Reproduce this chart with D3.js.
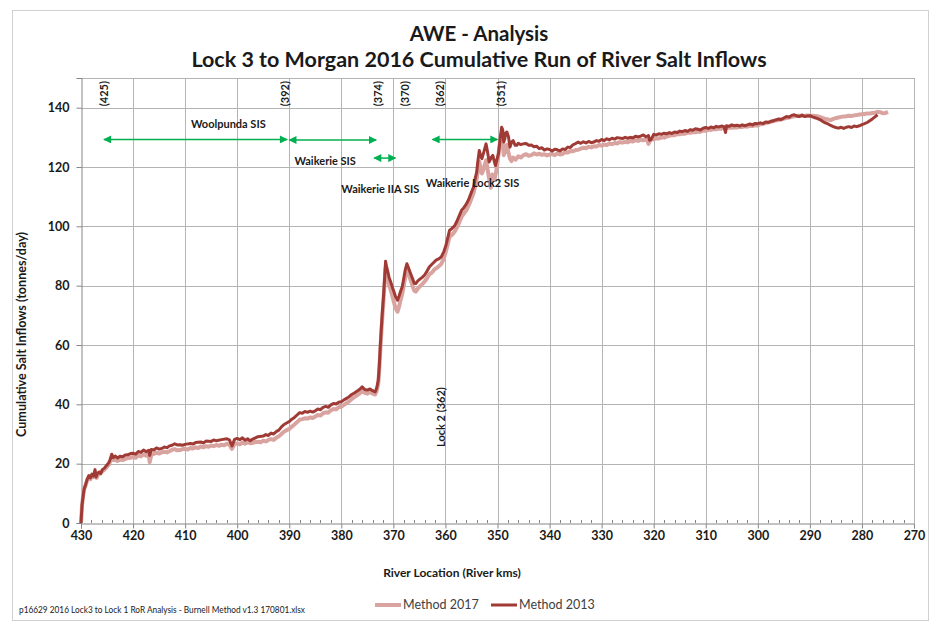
<!DOCTYPE html>
<html>
<head>
<meta charset="utf-8">
<script src="https://cdn.jsdelivr.net/npm/d3@7"></script>
<style>
  body { margin: 0; background: #fff; }
  svg text { font-family: Lato, "Open Sans", sans-serif; fill: #1a1a1a; }
</style>
</head>
<body>
<div id="chart"></div>
<script>
var width = 938, height = 624;

// river km (x) and cumulative salt inflow (t/day)
var km2013 = [430,429.8,429.6,429.4,429.1,428.8,428.5,428.2,427.9,427.6,427.3,427.1,426.8,426.5,426.2,425.9,425.5,425.1,424.7,424.4,424.1,423.8,423.4,423,422.5,422,421.5,421,420.5,420,419.5,419,418.5,418,417.5,417,416.8,416.5,416,415.5,415,414.5,414,413.5,413,412.5,412,411.5,411,410.5,410,409,408.5,408,407,406.5,406,405,404.5,404,403,402,401.5,401,400.5,400,399.5,399,398.5,398,397.5,397,396.5,396,395,394.5,394,393.5,393,392.5,392,391.5,391,390.5,390,389.5,389,388.5,388,387.5,387,386.5,386,385.5,385,384.5,384,383.5,383,382.5,382,381.5,381,380.5,380,379.5,379,378.5,378,377.5,377,376.5,376,375.5,375,374.5,374,373.5,373.2,372.9,372.7,372.5,372.3,372.1,371.9,371.7,371.5,371.3,371.1,370.8,370.5,370.2,369.9,369.6,369.2,368.9,368.6,368.3,368,367.7,367.4,367.1,366.7,366.3,366,365.7,365.3,364.9,364.4,364,363.5,363.1,362.6,362.2,361.8,361.3,360.8,360.3,359.9,359.5,359.2,358.8,358.2,357.8,357.3,356.9,356.5,356,355.6,355.2,354.8,354.6,354.3,354,353.8,353.5,353.2,353,352.7,352.4,352.2,351.9,351.6,351.2,350.9,350.6,350.4,350.1,349.8,349.5,349.2,349,348.8,348.6,348.4,348.2,347.9,347.6,347.3,347,346.6,346.3,346,345.6,345,344.5,344,343.5,343,342.5,342,341.5,341,340.5,340,339.5,339,338.5,338,337.5,337,336.5,336,335.5,335,334.5,334,333.5,333,332.5,332,331.5,331,330.5,330,329.5,329,328.5,328,327.5,327,326,325.5,325,324.5,324,323.5,323,322.5,322,321.5,321,320.8,320.5,320,319.5,319,318.5,318,317.5,317,316.5,316,315.5,315,314.5,314,313.5,313,312.5,312,311.5,311,310.5,310,309.5,309,308.5,308,307.5,307,306.5,306.2,306,305.5,305,304.5,304,303.5,303,302.5,302,301.5,301,300.5,300,299.5,299,298.5,298,297.5,297,296.5,296,295.5,295,294.5,294,293.5,293,292.5,292,291.5,291,290.5,290,289.5,289,288.5,288,287.5,287,286.5,286,285.5,285,284.5,284,283.5,283,282.5,282,281.5,281,280.5,280,279.5,279,278.5,278,277.5,277];
var salt2013 = [0,6,9,11.5,13,14.8,16,15.2,16.5,15.8,18,15.5,16.8,17.2,16.6,18,18.5,19.4,20.2,21.4,23.2,22,22.6,21.9,22.5,22.3,22.9,23,23.4,23.5,23.2,24.1,23.8,24.6,24,24.5,22.8,24.8,24.6,25.3,24.9,25.1,25.6,25.4,26,26.2,26.7,26.3,26.4,26.2,26.5,26.8,26.6,27.1,27.3,27,27.6,27.5,28,27.7,28.1,28.4,28,26,28.2,28.5,28.1,28.7,27.9,28.4,27.7,28.3,28.7,29.1,29.3,29.8,29.5,30.3,30,30.8,31.3,32.4,33.2,33.7,34.2,35,35.6,36.4,37.2,37,37.6,37.3,37.7,37.4,37.8,38.4,38.2,39,39.3,39,39.8,40.3,40.1,40.7,40.9,41.5,42,42.6,43.3,43.8,44.4,45,45.9,45,44.8,45.2,44.6,44.2,45.5,48.1,53,60,66,71.5,76.2,82,88.2,86.3,85,82.6,81.2,79.5,78,76.4,75.1,76.5,78.2,79.6,82.5,85.5,87.4,86,84.1,82.3,80.8,80.7,81.6,82.2,82.9,83.6,85,86.3,87.2,87.9,88.6,89,89.7,91.5,93.6,96.5,98.7,99.2,100.3,101.7,103.8,105.4,106.2,107.5,108.8,110.6,112.4,113.2,116,118.3,121.5,125.6,123.5,122.8,124.6,126.5,127.8,125,121.7,123.2,123.9,121.8,120.5,122.6,124.5,129.5,133.4,132.5,128.4,129.5,131.5,131.8,130.3,126.7,128.4,128.9,127.3,127.3,128,127.6,127.8,127.9,127.3,127.4,126.8,127,126.2,126.5,125.7,126.1,125.9,125.4,126,125.8,125.4,126.1,125.9,126.7,126.6,127.5,127.9,128.4,128,128.5,128.1,128.6,128.2,128.4,128.9,128.7,129.3,128.9,129.5,129.2,129.7,129.4,129.9,129.6,130,129.7,130,129.8,130.4,130.1,130.4,130.8,130.2,130.6,129,129.2,131,130.8,131.2,131,131.4,131.2,131.6,131.3,131.8,131.6,132.1,131.9,132.3,132,132.6,132.4,132.9,132.7,132.5,133.1,133.3,133,133.5,133.2,133.7,133.5,133.8,133.6,131.6,133.9,133.7,134.2,133.9,134.1,133.8,134.2,133.9,134.2,134.5,134.2,134.7,134.6,134.9,134.6,135.2,135,135.4,135.6,135.9,136.2,136,136.5,137,136.8,137.4,137.6,137.2,137,137.5,137,137.2,137.3,136.9,136.6,136.3,135.9,135.3,134.9,134.5,134,133.6,133.3,133.1,133.4,133,133.4,133.6,133.3,133.8,133.6,133.9,134.3,134.6,135,135.6,136.2,136.9,137.6];

var km2017 = [430,429.8,429.6,429.4,429.1,428.8,428.5,428.2,427.9,427.6,427.3,427,426.7,426.4,426,425.5,425,424.6,424.2,423.9,423.4,423,422.5,422,421.5,421,420.5,420,419.5,419,418.5,418,417.5,417,416.8,416.5,416,415.5,415,414.5,414,413.5,413,412.5,412,411.5,411,410.5,410,409.5,409,408.5,408,407.5,407,406.5,406,405.5,405,404.5,404,403.5,403,402.5,402,401.5,401,400.5,400,399.5,399,398.5,398,397.5,397,396.5,396,395.5,395,394.5,394,393.5,393,392.5,392,391.5,391,390.5,390,389.5,389,388.5,388,387.5,387,386.5,386,385.5,385,384.5,384,383.5,383,382.5,382,381.5,381,380.5,380,379.5,379,378.5,378,377.5,377,376.5,376,375.5,375,374.5,374,373.5,373.2,372.9,372.7,372.5,372.3,372.1,371.9,371.7,371.5,371.3,371.1,370.8,370.5,370.2,369.9,369.6,369.2,368.9,368.6,368.3,368,367.7,367.4,367.1,366.7,366.3,366,365.7,365.3,364.9,364.4,364,363.5,363.1,362.6,362.2,361.8,361.3,360.8,360.3,359.9,359.5,359.2,358.8,358.2,357.8,357.3,356.9,356.5,356,355.6,355.2,354.8,354.6,354.3,354,353.8,353.5,353.2,353,352.7,352.4,352.2,351.9,351.6,351.3,351,350.6,350.3,350,349.7,349.3,349,348.8,348.5,348.2,347.9,347.6,347.3,347,346.5,346,345.5,345,344.5,344,343.5,343,342.5,342,341.5,341,340.5,340,339.5,339,338.5,338,337.5,337,336.5,336,335.5,335,334.5,334,333.5,333,332.5,332,331.5,331,330.5,330,329.5,329,328.5,328,327.5,327,326.5,326,325.5,325,324.5,324,323.5,323,322.5,322,321.3,321,320.5,320,319.5,319,318.5,318,317.5,317,316.5,316,315.5,315,314.5,314,313.5,313,312.5,312,311.5,311,310.5,310,309.5,309,308.5,308,307.5,307,306.5,306,305.5,305,304.5,304,303.5,303,302.5,302,301.5,301,300.5,300,299.5,299,298.5,298,297.5,297,296.5,296,295.5,295,294.5,294,293.5,293,292.5,292,291.5,291,290.5,290,289.5,289,288.5,288,287.5,287,286.5,286,285.5,285,284.5,284,283.5,283,282.5,282,281.5,281,280.5,280,279.5,279,278.5,278,277.5,277,276.5,276,275.5,275];
var salt2017 = [0,6,9,11.3,12.8,14.5,15.5,14.8,16,15.5,17,15.2,16.4,16.8,17.3,18,19,19.8,21.6,21.2,21.3,20.9,21.4,21.2,21.6,21.9,22,22.3,22,22.8,22.5,23.1,22.7,23.2,20.5,23,23.3,23.7,23.4,23.8,24,23.8,24.2,24.7,24.9,24.5,24.6,24.9,25,24.8,25.3,25.1,25.5,25.3,25.8,25.5,25.9,25.7,26.1,25.9,26.3,26,26.4,26.2,26.7,26.4,25,26.6,26.8,26.5,27.1,26.7,27.2,26.9,27,27.3,27.4,27.2,27.7,27.5,28,28.3,28,28.7,29.2,30,30.8,31.3,31.7,32.5,33.2,34,34.8,35,35.3,35.2,35.6,35.4,35.9,36.4,36.2,37,37.3,37.2,38,38.4,38.3,39,39.2,39.8,40.4,41,41.8,42.4,43,43.6,44.5,43.9,43.6,44.2,43.6,43.3,44.6,47,52,58.5,64.5,70,75,80.5,86,84.5,82.8,80,78.5,76.5,74.5,72.5,71.2,73,75.3,77.2,80,83,85,84,82,79.8,78.3,78,79,79.8,80.6,81.4,82.6,83.8,84.4,85.3,85.8,86.5,87.3,89.2,91.6,94.4,96.6,97,98.3,99.6,101.6,103.2,104.2,105.4,106.8,108.5,110.3,111.2,113.5,116,118.5,121.8,119,117.8,119.2,121,122.3,119.2,116,113,117.5,115.6,118,121.5,126,131,128,124,125.5,127.5,125,122.8,122,123.2,122.5,123.6,123.2,124,124.3,123.8,124,124.6,124.2,124.5,124.1,124.3,123.9,124.2,124.4,124,124.6,124.2,124.4,125,124.9,125.4,125.3,125.7,125.8,126.2,126.5,126.3,126.8,126.6,127,126.9,127.4,127.2,127.6,127.4,127.9,127.7,128.1,127.9,128.4,128.2,128.5,128.3,128.8,128.6,129,128.8,129.2,129,129.3,127.8,129.5,129.3,129.7,129.6,130,129.9,130.3,130.5,130.8,130.7,131.1,131,131.3,131.2,131.6,131.5,131.8,131.7,132,131.9,132.3,132.2,132.6,132.5,132.8,132.7,133,132.9,133.2,133.1,133.3,133.2,133.4,133.3,133.6,133.5,133.7,133.6,133.9,133.8,134.1,134,134.4,134.6,134.8,135,135.2,135.5,135.7,135.8,136,136.3,136.5,136.7,136.9,137.1,137.2,137.3,137.3,137.2,137.4,137.3,137.3,137.2,137.1,136.8,136.5,136.2,136,135.8,136.2,136.5,136.7,136.9,137,137.1,137.3,137.2,137.4,137.5,137.7,137.8,137.9,138,138,138.2,138.3,138.6,138.5,138.1,138.2,138.6,138.3];

var xTicks = d3.range(430, 269, -10);
var yTicks = d3.range(0, 141, 20);

// annotations
var locLabels = ["(425)", "(392)", "(374)", "(370)", "(362)", "(351)"];
var locKm = [425.6, 390.8, 372.9, 367.7, 361, 349.4];
var sisNames = ["Woolpunda SIS", "Waikerie SIS", "Waikerie IIA SIS", "Waikerie Lock2 SIS"];
var sisFrom = [425.6, 390.0, 373.7, 362.5];
var sisTo = [390.4, 373.3, 369.6, 350.0];
var sisArrowY = [129.3, 129.1, 123.0, 129.3];
var sisTextKm = [401.7, 383.1, 372.5, 354.8];
var sisTextY = [134.3, 121.9, 112.5, 114.5];

var plot = {left: 81, right: 914, top: 78, bottom: 523};

var svg = d3.select("#chart").append("svg")
    .attr("width", width)
    .attr("height", height);

// chart frame
svg.append("rect")
    .attr("x", 12.5).attr("y", 10.5)
    .attr("width", 916).attr("height", 610)
    .attr("fill", "#fff").attr("stroke", "#d0d0d0");

var x = d3.scaleLinear().domain([430, 270]).range([plot.left, plot.right]);
var y = d3.scaleLinear().domain([0, 150]).range([plot.bottom, plot.top]);

// gridlines
svg.append("g").selectAll("line").data(yTicks.slice(1)).enter().append("line")
    .attr("x1", plot.left).attr("x2", plot.right)
    .attr("y1", function(d) { return Math.round(y(d)) + 0.5; })
    .attr("y2", function(d) { return Math.round(y(d)) + 0.5; })
    .attr("stroke", "#b4b4b4");
svg.append("g").selectAll("line").data(xTicks.slice(1)).enter().append("line")
    .attr("y1", plot.top).attr("y2", plot.bottom)
    .attr("x1", function(d) { return Math.round(x(d)) + 0.5; })
    .attr("x2", function(d) { return Math.round(x(d)) + 0.5; })
    .attr("stroke", "#b4b4b4");
svg.append("line")
    .attr("x1", plot.left).attr("x2", plot.right)
    .attr("y1", plot.top + 0.5).attr("y2", plot.top + 0.5)
    .attr("stroke", "#b4b4b4");

// minor ticks on x axis (every 2 km, inside)
svg.append("g").selectAll("line").data(d3.range(428, 270, -2).filter(function(d) { return d % 10 != 0; }))
    .enter().append("line")
    .attr("x1", function(d) { return Math.round(x(d)) + 0.5; })
    .attr("x2", function(d) { return Math.round(x(d)) + 0.5; })
    .attr("y1", plot.bottom).attr("y2", plot.bottom - 3)
    .attr("stroke", "#868686");

var xAxis = svg.append("g")
    .attr("transform", "translate(0," + (plot.bottom + 0.5) + ")")
    .call(d3.axisBottom(x).tickValues(xTicks).tickSize(5).tickPadding(3).tickFormat(d3.format("d")));
var yAxis = svg.append("g")
    .attr("transform", "translate(" + (plot.left + 0.5) + ",0)")
    .call(d3.axisLeft(y).tickValues(yTicks).tickSize(5).tickPadding(7));

[xAxis, yAxis].forEach(function(a) {
  a.select(".domain").attr("stroke", "#868686");
  a.selectAll(".tick line").attr("stroke", "#868686");
  a.selectAll(".tick text")
    .style("font-family", "Lato, sans-serif")
    .style("font-size", "12.5px")
    .style("font-weight", "bold")
    .attr("fill", "#1a1a1a");
});

// series
var line = d3.line()
    .x(function(d) { return x(d[0]); })
    .y(function(d) { return y(d[1]); });

svg.append("path")
    .datum(d3.zip(km2017, salt2017))
    .attr("d", line)
    .attr("fill", "none")
    .attr("stroke", "#d9a3a0")
    .attr("stroke-width", 4)
    .attr("stroke-linejoin", "round");

svg.append("path")
    .datum(d3.zip(km2013, salt2013))
    .attr("d", line)
    .attr("fill", "none")
    .attr("stroke", "#a03a35")
    .attr("stroke-width", 3)
    .attr("stroke-linejoin", "round");

// location labels (rotated)
svg.append("g").selectAll("text").data(locLabels).enter().append("text")
    .attr("transform", function(d, i) { return "translate(" + (x(locKm[i]) + 4) + "," + (plot.top + 3) + ") rotate(-90)"; })
    .attr("text-anchor", "end")
    .style("font-size", "11px")
    .style("font-weight", "bold")
    .text(function(d) { return d; });

// SIS arrows
var defs = svg.append("defs");
defs.append("marker")
    .attr("id", "ah")
    .attr("viewBox", "0 0 10 10")
    .attr("refX", 9).attr("refY", 5)
    .attr("markerWidth", 10).attr("markerHeight", 8)
    .attr("markerUnits", "userSpaceOnUse")
    .attr("orient", "auto-start-reverse")
    .append("path")
    .attr("d", "M0,0L10,5L0,10z")
    .attr("fill", "#00b050");

svg.append("g").selectAll("line").data(sisNames).enter().append("line")
    .attr("x1", function(d, i) { return x(sisFrom[i]); })
    .attr("x2", function(d, i) { return x(sisTo[i]); })
    .attr("y1", function(d, i) { return y(sisArrowY[i]); })
    .attr("y2", function(d, i) { return y(sisArrowY[i]); })
    .attr("stroke", "#00b050")
    .attr("stroke-width", 1.5)
    .attr("marker-start", "url(#ah)")
    .attr("marker-end", "url(#ah)");

svg.append("g").selectAll("text").data(sisNames).enter().append("text")
    .attr("x", function(d, i) { return x(sisTextKm[i]); })
    .attr("y", function(d, i) { return y(sisTextY[i]); })
    .attr("dy", "0.35em")
    .attr("text-anchor", "middle")
    .style("font-size", "11px")
    .style("font-weight", "bold")
    .text(function(d) { return d; });

svg.append("text")
    .attr("transform", "translate(" + (x(360.8) + 4) + "," + y(35.7) + ") rotate(-90)")
    .attr("text-anchor", "middle")
    .style("font-size", "11px")
    .style("font-weight", "bold")
    .text("Lock 2 (362)");

// titles
svg.append("text")
    .attr("x", 479).attr("y", 41)
    .attr("text-anchor", "middle")
    .style("font-size", "20.5px")
    .style("font-weight", "bold")
    .text("AWE - Analysis");
svg.append("text")
    .attr("x", 479).attr("y", 67)
    .attr("text-anchor", "middle")
    .style("font-size", "21.5px")
    .style("font-weight", "bold")
    .text("Lock 3 to Morgan 2016 Cumulative Run of River Salt Inflows");

svg.append("text")
    .attr("transform", "translate(26," + ((plot.top + plot.bottom) / 2 + 34) + ") rotate(-90)")
    .attr("text-anchor", "middle")
    .style("font-size", "12.6px")
    .style("font-weight", "bold")
    .text("Cumulative Salt Inflows (tonnes/day)");

svg.append("text")
    .attr("x", 452).attr("y", 577)
    .attr("text-anchor", "middle")
    .style("font-size", "12px")
    .style("font-weight", "bold")
    .text("River Location (River kms)");

// legend
var legend = svg.selectAll(".legend")
    .data([["Method 2017", "#d9a3a0", 4], ["Method 2013", "#a03a35", 3]])
    .enter().append("g")
    .attr("class", "legend")
    .attr("transform", function(d, i) { return "translate(" + (375 + i * 116) + ",605)"; });
legend.append("line")
    .attr("x1", 0).attr("x2", 26)
    .attr("stroke", function(d) { return d[1]; })
    .attr("stroke-width", function(d) { return d[2]; });
legend.append("text")
    .attr("x", 28).attr("dy", "0.35em")
    .style("font-size", "12.5px")
    .style("fill", "#404040")
    .text(function(d) { return d[0]; });

svg.append("text")
    .attr("x", 19).attr("y", 613)
    .attr("textLength", 286)
    .attr("lengthAdjust", "spacingAndGlyphs")
    .style("font-size", "9px")
    .text("p16629 2016 Lock3 to Lock 1 RoR Analysis - Burnell Method v1.3 170801.xlsx");
</script>
</body>
</html>
